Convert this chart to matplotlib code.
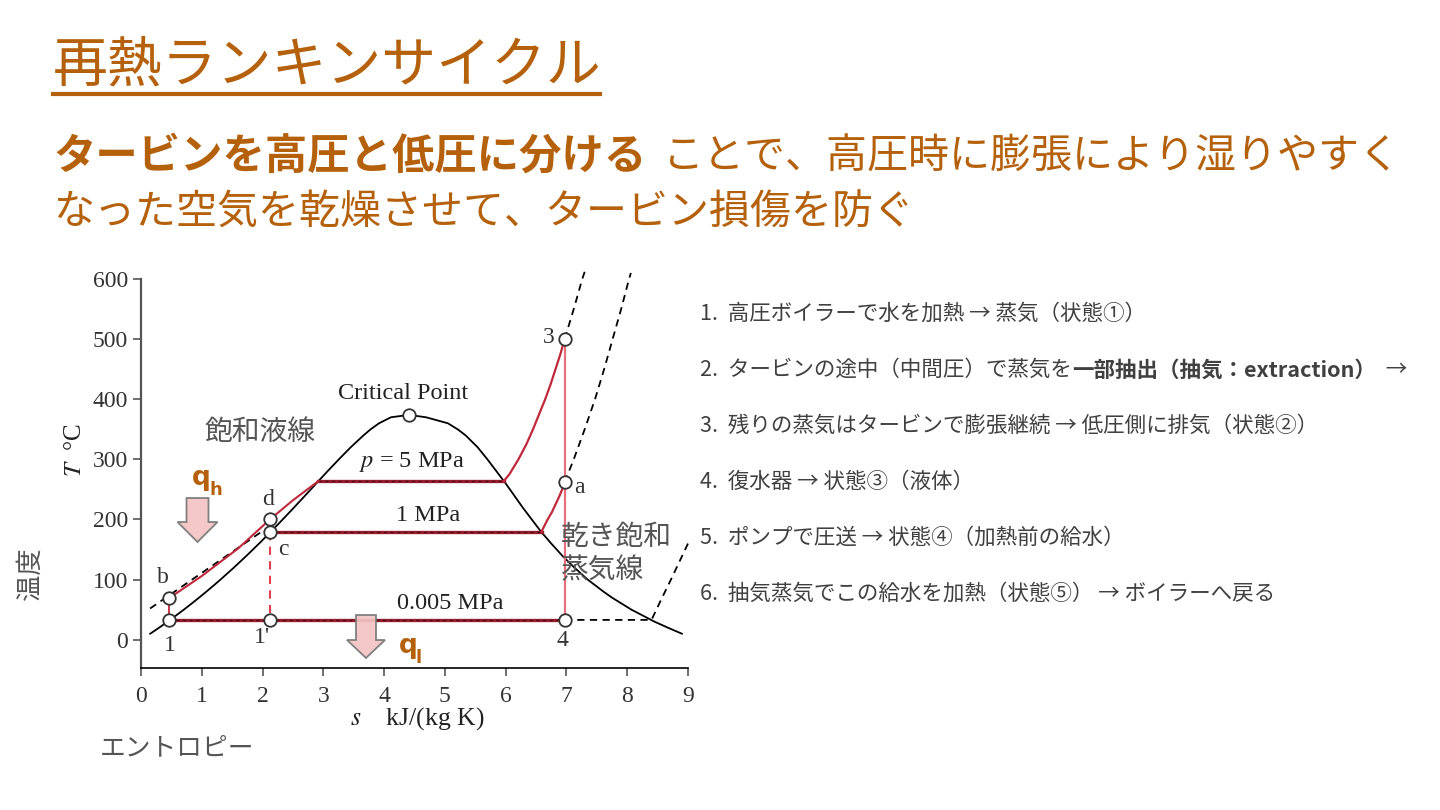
"""T-s diagram slide for the reheat Rankine cycle."""
import matplotlib
matplotlib.use("Agg")
import numpy as np
from matplotlib import pyplot as plt
from matplotlib.patches import Polygon
from matplotlib.lines import Line2D

plt.rcParams["font.family"] = ["Noto Sans CJK JP", "DejaVu Sans"]
plt.rcParams["mathtext.fontset"] = "stix"

# saturation dome (s in kJ/(kg K), T in degC)
liq_T = [10, 20, 30, 40, 50, 60, 70, 80, 90, 100, 120, 140, 160, 180, 200,
         220, 240, 260, 280, 300, 320, 340, 350, 360, 370, 374]
liq_s = [0.151, 0.297, 0.437, 0.572, 0.704, 0.831, 0.955, 1.075, 1.193, 1.307,
         1.528, 1.739, 1.943, 2.139, 2.331, 2.518, 2.702, 2.884, 3.067, 3.255,
         3.449, 3.662, 3.778, 3.916, 4.111, 4.41]
vap_T = [374, 370, 360, 350, 340, 320, 300, 280, 260, 240, 220, 200, 180, 160,
         140, 120, 100, 90, 80, 70, 60, 50, 40, 30, 20, 10]
vap_s = [4.41, 4.69, 5.05, 5.21, 5.34, 5.54, 5.70, 5.85, 6.00, 6.14, 6.28, 6.43,
         6.58, 6.75, 6.93, 7.13, 7.35, 7.48, 7.61, 7.75, 7.91, 8.07, 8.26, 8.45,
         8.67, 8.90]
crit_s, crit_T = 4.41, 374

# isobars
T_5mpa, T_1mpa, T_low = 264, 180, 33
p5_s = [5.97, 6.06, 6.21, 6.34, 6.45, 6.55, 6.65, 6.74, 6.82, 6.90, 6.97]
p5_T = [264, 275, 300, 325, 350, 375, 400, 425, 450, 475, 500]
p5_ext_s = [6.97, 7.12, 7.26, 7.30]
p5_ext_T = [500, 550, 600, 612]
p1_s = [6.59, 6.64, 6.69, 6.76, 6.82, 6.88, 6.93, 6.97]
p1_T = [180, 190, 200, 212, 225, 238, 250, 262]
p1_ext_s = [6.97, 7.12, 7.30, 7.47, 7.62, 7.76, 7.90, 8.03, 8.06]
p1_ext_T = [262, 300, 350, 400, 450, 500, 550, 600, 610]
plow_ext_s = [6.97, 8.40, 8.55, 8.70, 8.85, 9.0]
plow_ext_T = [33, 33, 65, 96, 128, 160]
liq_p_s = [0.15, 1.96]
liq_p_T = [52, 178]
pump_s = [0.46, 1.0, 1.6, 2.12, 2.5, 2.92]
pump_T = [69, 106, 152, 200, 232, 264]

# state points
pt_names = ["1", "b", "d", "c", "1'", "4", "a", "3"]
pt_s = [0.46, 0.46, 2.12, 2.12, 2.12, 6.97, 6.97, 6.97]
pt_T = [33, 69, 200, 180, 33, 33, 262, 500]
pt_lab_s = [0.48, 0.36, 2.09, 2.35, 1.99, 6.94, 7.22, 6.71]
pt_lab_T = [-10, 103, 234, 150, 4, -2, 253, 502]

x_ticks = list(range(0, 10))
y_ticks = list(range(0, 700, 100))

steps = [
    [("1.  高圧ボイラーで水を加熱 → 蒸気（状態①）", "normal")],
    [("2.  タービンの途中（中間圧）で蒸気を", "normal"),
     ("一部抽出（抽気：extraction）", "bold"), ("  →", "normal")],
    [("3.  残りの蒸気はタービンで膨張継続 → 低圧側に排気（状態②）", "normal")],
    [("4.  復水器 → 状態③（液体）", "normal")],
    [("5.  ポンプで圧送 → 状態④（加熱前の給水）", "normal")],
    [("6.  抽気蒸気でこの給水を加熱（状態⑤） → ボイラーへ戻る", "normal")],
]

W, H = 1440, 810
ORANGE = "#b5610b"
GREY = "#555555"
RED = "#c0283c"
DARKRED = "#961e2e"
SERIF = ["Liberation Serif", "DejaVu Serif"]


def fx(px):
    return px / W


def fy(py):
    return 1 - py / H


fig = plt.figure(figsize=(14.4, 8.1), dpi=100)
ax = fig.add_axes([fx(141), fy(668), fx(688) - fx(141), fy(279) - fy(668)])
ax.set_xlim(0, 9)
ax.set_ylim(-47, 600)

# dome
ax.plot(liq_s, liq_T, color="black", lw=1.3, zorder=2)
ax.plot(vap_s, vap_T, color="black", lw=1.3, zorder=2)

# dashed extensions
dash = dict(color="black", lw=1.3, ls=(0, (4, 3)), zorder=2, clip_on=False)
ax.plot(p5_ext_s, p5_ext_T, **dash)
ax.plot(p1_ext_s, p1_ext_T, **dash)
ax.plot(plow_ext_s, plow_ext_T, **dash)
ax.plot(liq_p_s, liq_p_T, **dash)

# cycle
for y, s0, s1 in [(T_5mpa, 2.92, 5.97), (T_1mpa, 2.12, 6.59), (T_low, 0.46, 6.97)]:
    ax.plot([s0, s1], [y, y], color=DARKRED, lw=2.4, zorder=3)
    ax.plot([s0, s1], [y, y], color="#4a0a12", lw=0.8, ls=(0, (3, 3)), zorder=3)
ax.plot(p5_s, p5_T, color=RED, lw=1.6, zorder=3)
ax.plot(p1_s, p1_T, color=RED, lw=1.6, zorder=3)
ax.plot(pump_s, pump_T, color=RED, lw=1.5, zorder=3)
ax.plot([pt_s[0], pt_s[1]], [pt_T[0], pt_T[1]], color=RED, lw=1.3, zorder=3)
ax.plot([pt_s[7], pt_s[5]], [pt_T[7], pt_T[5]], color="#e8707c", lw=1.6, zorder=3)
ax.plot([pt_s[3], pt_s[4]], [pt_T[3], pt_T[4]], color="#e04050", lw=1.5,
        ls=(0, (4, 3)), zorder=3)

mk = dict(marker="o", ms=9, mfc="white", mec="#333333", mew=1.3, ls="none", zorder=5)
ax.plot(pt_s, pt_T, **mk)
ax.plot([crit_s], [crit_T], **mk)

for name, s, t in zip(pt_names, pt_lab_s, pt_lab_T):
    ax.text(s, t, name, fontsize=17, family=SERIF, color="#333333",
            ha="center", va="center")
lbl = dict(fontsize=17.5, family=SERIF, color="#222222", ha="center", va="center")
ax.text(4.31, 410, "Critical Point", **lbl)
ax.text(4.46, 296, r"$p$ = 5 MPa", **lbl)
ax.text(4.72, 206, "1 MPa", **lbl)
ax.text(5.08, 61, "0.005 MPa", **lbl)

# axes styling
for side in ["top", "right"]:
    ax.spines[side].set_visible(False)
ax.spines["left"].set_color("#555555")
ax.spines["left"].set_linewidth(1.6)
ax.spines["bottom"].set_color("black")
ax.spines["bottom"].set_linewidth(1.2)
ax.set_xticks(x_ticks)
ax.set_yticks(y_ticks)
ax.tick_params(direction="out", length=6, width=1.2, labelsize=17,
               labelcolor="#333333", colors="#555555")
ax.tick_params(axis="x", pad=7)
for lab in ax.get_xticklabels() + ax.get_yticklabels():
    lab.set_family(SERIF)
    lab.set_color("#333333")

fig.text(fx(75), fy(450), r"$T$  °C", rotation=90, fontsize=18, family=SERIF,
         color="#222222", ha="center", va="center")
fig.text(fx(417), fy(719), r"$s$    kJ/(kg K)", fontsize=18.5, family=SERIF,
         color="#222222", ha="center", va="center")

# Japanese annotations
fig.text(fx(260), fy(432), "飽和液線", fontsize=20, color=GREY, ha="center", va="center")
fig.text(fx(561), fy(554), "乾き飽和\n蒸気線", fontsize=20, color=GREY, ha="left",
         va="center", linespacing=1.15)
fig.text(fx(30), fy(574), "温度", fontsize=19, color=GREY, rotation=90,
         ha="center", va="center")
fig.text(fx(100), fy(748), "エントロピー", fontsize=18.5, color=GREY, ha="left",
         va="center")

# heat arrows
def block_arrow(cx, top, neck, tip, shaft, head):
    pts = [(cx - shaft, top), (cx + shaft, top), (cx + shaft, neck), (cx + head, neck),
           (cx, tip), (cx - head, neck), (cx - shaft, neck)]
    fig.patches.append(Polygon([(fx(x), fy(y)) for x, y in pts], closed=True,
                               transform=fig.transFigure, facecolor="#f4c4c4",
                               edgecolor="#777777", lw=1.3, alpha=0.92, zorder=6))


block_arrow(197.5, 498, 522, 542, 11, 20)
block_arrow(366, 615, 640, 658, 10, 19)

qkw = dict(color=ORANGE, fontweight="bold", family=["DejaVu Sans"], va="center")
fig.text(fx(192), fy(478), "q", fontsize=19, ha="left", **qkw)
fig.text(fx(209), fy(490), "h", fontsize=13, ha="left", **qkw)
fig.text(fx(399), fy(646), "q", fontsize=19, ha="left", **qkw)
fig.text(fx(416), fy(658), "l", fontsize=13, ha="left", **qkw)

# title
fig.text(fx(53), fy(66), "再熱ランキンサイクル", fontsize=39.5, color=ORANGE,
         ha="left", va="center")
fig.add_artist(Line2D([fx(53), fx(600)], [fy(94), fy(94)], color=ORANGE, lw=3,
                      transform=fig.transFigure))

fig.text(fx(53), fy(157), "タービンを高圧と低圧に分ける", fontsize=30.5, color=ORANGE,
         fontweight="bold", ha="left", va="center")
fig.text(fx(663), fy(157), "ことで、高圧時に膨張により湿りやすく", fontsize=29.5,
         color=ORANGE, ha="left", va="center")
fig.text(fx(53), fy(213), "なった空気を乾燥させて、タービン損傷を防ぐ", fontsize=29.5,
         color=ORANGE, ha="left", va="center")

# numbered steps on the right
renderer = fig.canvas.get_renderer()
for i, parts in enumerate(steps):
    x = fx(700)
    y = fy(314 + 56 * i)
    for txt, weight in parts:
        t = fig.text(x, y, txt, fontsize=15.5, color="#404040", fontweight=weight,
                     ha="left", va="center")
        bb = t.get_window_extent(renderer)
        x = fig.transFigure.inverted().transform((bb.x1, bb.y0))[0]

fig.savefig("out.png", dpi=100)
